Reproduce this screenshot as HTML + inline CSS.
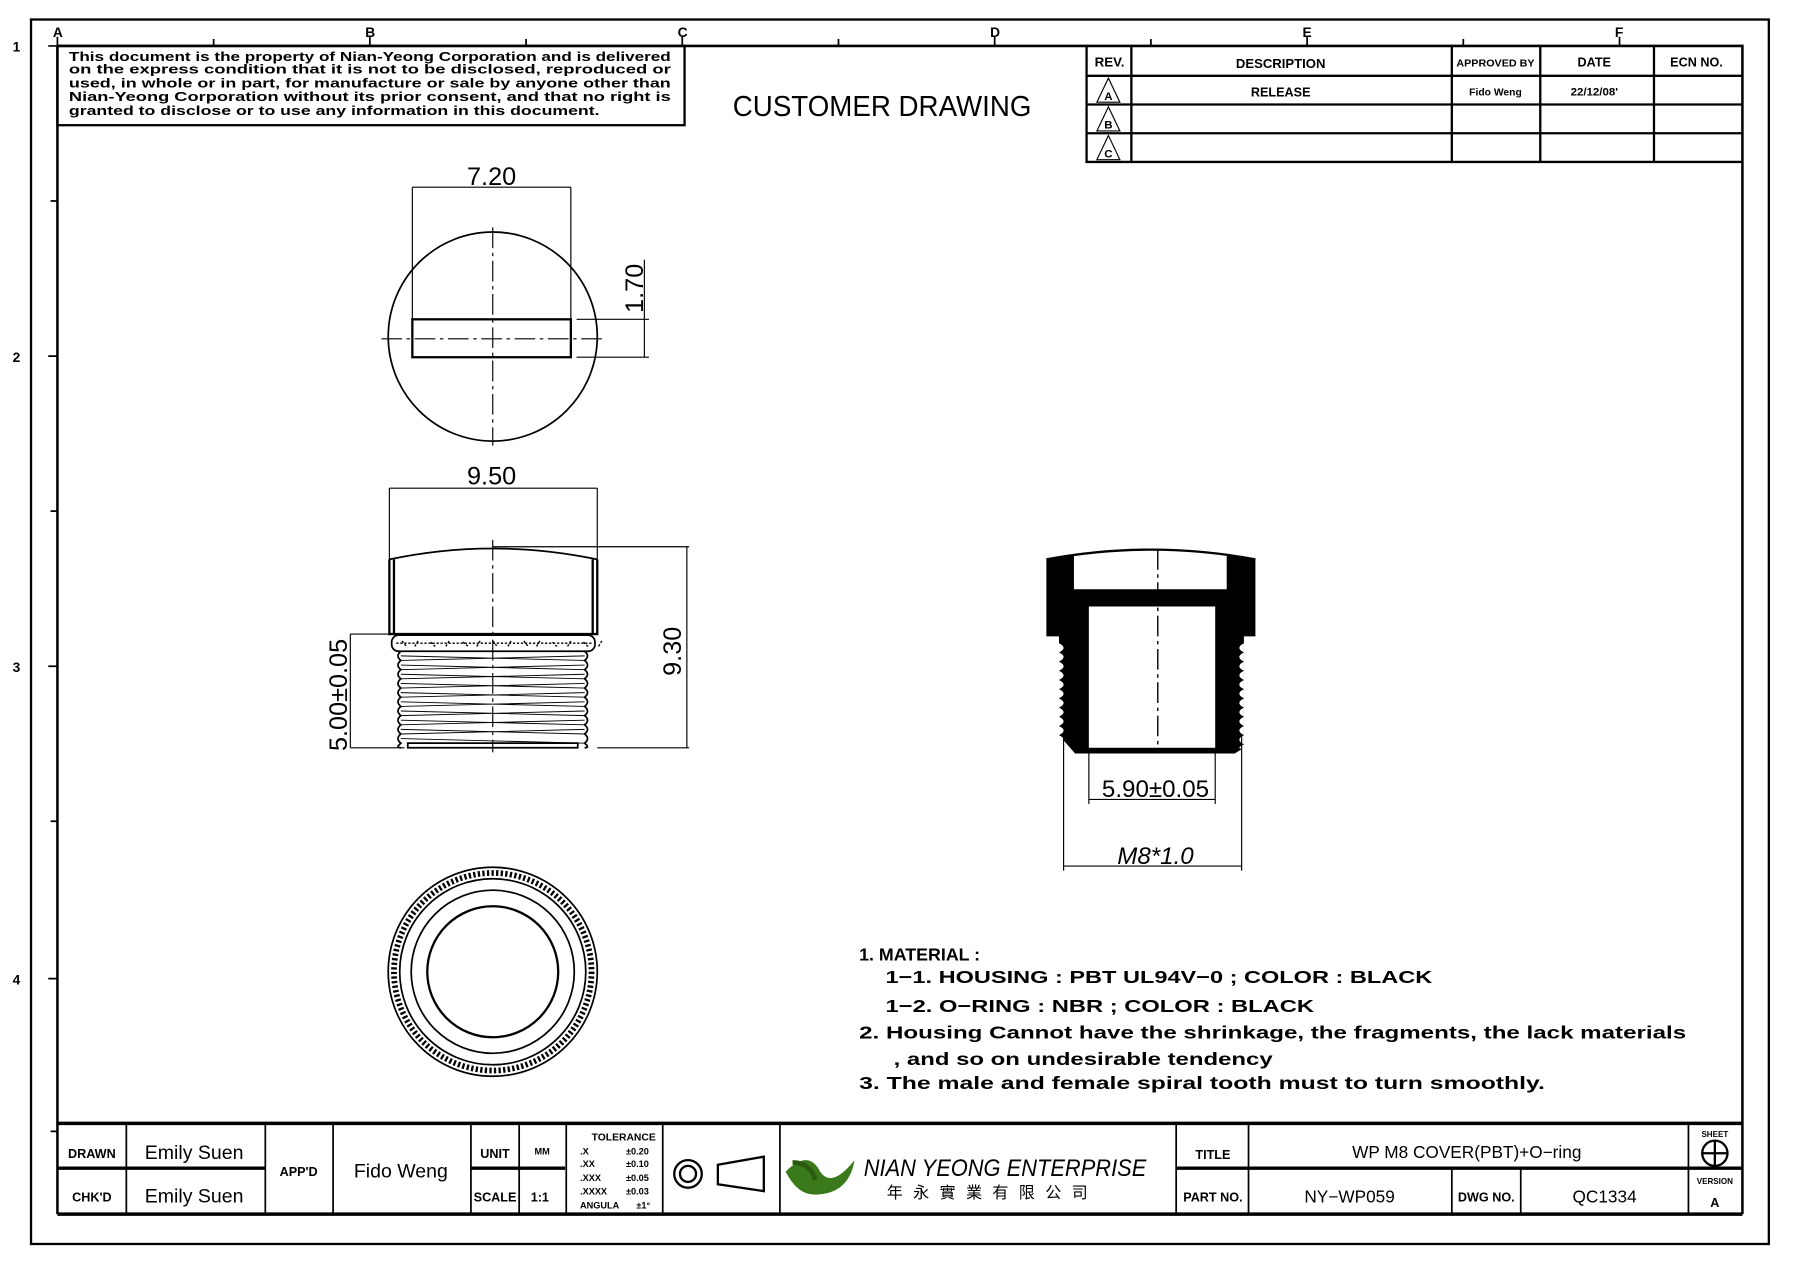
<!DOCTYPE html>
<html><head><meta charset="utf-8"><style>
html,body{margin:0;padding:0;background:#fff}
svg{display:block}
text{font-family:"Liberation Sans",sans-serif;fill:#000}
.b{font-weight:bold}
</style></head><body>
<svg width="1801" height="1265" viewBox="0 0 1568 1101.3" preserveAspectRatio="none" xmlns="http://www.w3.org/2000/svg">
<rect x="0" y="0" width="1568" height="1102" fill="#fff"/>
<g fill="none" stroke="#000">
<rect x="27" y="17" width="1513" height="1066" stroke-width="2"/>
<path d="M50 40H1517V1057M50 40V1057" stroke-width="2.2"/>
<path d="M50 32V40M186 34V40M322 32V40M458 34V40M594 32V40M730 34V40M866 32V40M1002 34V40M1138 32V40M1274 34V40M1410 32V40" stroke-width="1.5"/>
<path d="M42 40H50M44 175H50M42 310H50M44 445H50M42 580H50M44 715H50M42 852H50M44 985H50" stroke-width="1.5"/>
<rect x="50" y="40" width="546" height="69" stroke-width="2"/>
<path d="M946 40V141H1517M946 66H1517M946 91H1517M946 116H1517M985 40V141M1264 40V141M1341 40V141M1440 40V141" stroke-width="2"/>
<path d="M965 68L955 89H975ZM965 93L955 114H975ZM965 118L955 139H975Z" stroke-width="1"/>
</g>
<g class="b" font-size="12">
<text x="11" y="45">1</text><text x="11" y="315">2</text><text x="11" y="585">3</text><text x="11" y="857">4</text>
<text x="46" y="32">A</text><text x="318" y="32">B</text><text x="590" y="32">C</text><text x="862" y="32">D</text><text x="1134" y="32">E</text><text x="1406" y="32">F</text>
</g>
<g class="b" font-size="11.5">
<text x="60" y="53" textLength="524" lengthAdjust="spacingAndGlyphs">This document is the property of Nian-Yeong Corporation and is delivered</text>
<text x="60" y="64" textLength="524" lengthAdjust="spacingAndGlyphs">on  the  express condition that it is not to be disclosed, reproduced or</text>
<text x="60" y="76" textLength="524" lengthAdjust="spacingAndGlyphs">used, in whole or in part, for manufacture or sale by anyone other than</text>
<text x="60" y="88" textLength="524" lengthAdjust="spacingAndGlyphs">Nian-Yeong Corporation without  its prior consent, and that  no right  is</text>
<text x="60" y="100" textLength="462" lengthAdjust="spacingAndGlyphs">granted to disclose or to use any information in this  document.</text>
</g>
<text x="638" y="101" font-size="25" textLength="260" lengthAdjust="spacingAndGlyphs">CUSTOMER  DRAWING</text>
<g class="b" font-size="11" text-anchor="middle">
<text x="966" y="58" textLength="26" lengthAdjust="spacingAndGlyphs">REV.</text>
<text x="1115" y="59" textLength="78" lengthAdjust="spacingAndGlyphs">DESCRIPTION</text>
<text x="1302" y="58" textLength="68" lengthAdjust="spacingAndGlyphs" font-size="9">APPROVED BY</text>
<text x="1388" y="58">DATE</text>
<text x="1477" y="58">ECN NO.</text>
<text x="1115" y="84">RELEASE</text>
<text x="1302" y="83" font-size="9">Fido Weng</text>
<text x="1388" y="83" font-size="10">22/12/08'</text>
<text x="965" y="87" font-size="10">A</text><text x="965" y="112" font-size="10">B</text><text x="965" y="137" font-size="10">C</text>
</g>

<g fill="none" stroke="#000">
<circle cx="429" cy="293" r="91" stroke-width="1.5"/>
<rect x="359" y="278" width="138" height="33" stroke-width="2"/>
<path d="M429 198V388M332 295H528" stroke-width="1" stroke-dasharray="18 4 3 4"/>
<path d="M359 163V278M497 163V278M359 163H497M502 278H565M502 311H565M561 226V311" stroke-width="1"/>
</g>
<text x="428" y="161" font-size="22" text-anchor="middle">7.20</text>
<text transform="translate(560,251) rotate(-90)" font-size="22" text-anchor="middle">1.70</text>

<g fill="none" stroke="#000">
<path d="M339 425H520M339 425V487M520 425V487" stroke-width="1"/>
<path d="M339 487Q429 468 520 487" stroke-width="1.5"/>
<path d="M339 487V552H520V487M343 487V552M516 487V552" stroke-width="2"/>
<path d="M429 476H600M520 651H600M305 552H339M305 651H352M598 476V651M305 552V651" stroke-width="1"/>
<rect x="341" y="553" width="177" height="14" rx="6" stroke-width="1.5"/>
<path d="M345 560h170M350 558l4 5m10-5l-3 5m14-4l4 4m12-5l-3 5m15-4l5 4m10-5l-3 5m14-5l4 5m12-5l-3 5m14-5l4 5m10-5l-3 5m14-4l4 4m12-5l-3 5m14-4l4 4m12-5l-3 5" stroke-width="1.2" stroke-dasharray="2 1.5"/>
<path d="M349 567q-5 4 0 8q-5 4 0 8q-5 4 0 8q-5 4 0 8q-5 4 0 8q-5 4 0 8q-5 4 0 8q-5 4 0 8q-5 4 0 8q-5 4 0 8q-5 4 0 4M509 567q5 4 0 8q5 4 0 8q5 4 0 8q5 4 0 8q5 4 0 8q5 4 0 8q5 4 0 8q5 4 0 8q5 4 0 8q5 4 0 8q5 4 0 4" stroke-width="1.5"/>
<path d="M349 571L509 575M349 579L509 583M349 587L509 591M349 595L509 599M349 603L509 607M349 611L509 615M349 619L509 623M349 627L509 631M349 635L509 639M349 643L509 647M349 575L509 571M349 583L509 579M349 591L509 587M349 599L509 595M349 607L509 603M349 615L509 611M349 623L509 619M349 631L509 627M349 639L509 635" stroke-width="0.8"/>
<path d="M355 647H503V651H355Z" stroke-width="1.5"/>
<path d="M429 470V655" stroke-width="1" stroke-dasharray="18 4 3 4"/>
</g>
<text x="428" y="422" font-size="22" text-anchor="middle">9.50</text>
<text transform="translate(593,567) rotate(-90)" font-size="22" text-anchor="middle">9.30</text>
<text transform="translate(302,605) rotate(-90)" font-size="22" text-anchor="middle">5.00±0.05</text>

<g fill="none" stroke="#000">
<circle cx="429" cy="846" r="91" stroke-width="1.5"/>
<circle cx="429" cy="846" r="86" stroke-width="5" stroke-dasharray="2 2"/>
<circle cx="429" cy="846" r="81" stroke-width="1.5"/>
<circle cx="429" cy="846" r="71" stroke-width="1.5"/>
<circle cx="429" cy="846" r="57" stroke-width="2"/>
</g>

<g>
<path d="M911 487Q1002 470 1093 487V554H1083V651L1075 656H936L922 640V554H911Z" fill="#000"/>
<path d="M935 480Q1002 472 1068 480V513H935Z" fill="#fff"/>
<path d="M911 487Q1002 470 1093 487" stroke="#000" stroke-width="2" fill="none"/>
<rect x="948" y="528" width="110" height="123" fill="#fff"/>
<path d="M922 560q8 4 0 8q8 4 0 8q8 4 0 8q8 4 0 8q8 4 0 8q8 4 0 8q8 4 0 8q8 4 0 8q8 4 0 8q8 4 0 8q8 4 0 8q8 4 0 4V560ZM1083 560q-8 4 0 8q-8 4 0 8q-8 4 0 8q-8 4 0 8q-8 4 0 8q-8 4 0 8q-8 4 0 8q-8 4 0 8q-8 4 0 8q-8 4 0 8q-8 4 0 8q-8 4 0 4V560Z" fill="#fff"/>
<path d="M1008 478V651" stroke="#000" stroke-width="1.2" stroke-dasharray="18 4 3 4" fill="none"/>
<path d="M948 652V700M1058 652V700M948 696H1058M926 640V758M1081 640V758M926 754H1081" stroke="#000" stroke-width="1" fill="none"/>
</g>
<text x="1006" y="694" font-size="21" text-anchor="middle">5.90±0.05</text>
<text x="1006" y="752" font-size="21" text-anchor="middle" font-style="italic">M8*1.0</text>

<g class="b" font-size="15.5">
<text x="748" y="836">1.  MATERIAL  :</text>
<text x="771" y="856" textLength="476" lengthAdjust="spacingAndGlyphs">1−1.  HOUSING  :  PBT  UL94V−0  ;  COLOR  :  BLACK</text>
<text x="771" y="881" textLength="373" lengthAdjust="spacingAndGlyphs">1−2.  O−RING  :  NBR  ;  COLOR  :  BLACK</text>
<text x="748" y="904" textLength="720" lengthAdjust="spacingAndGlyphs">2.  Housing  Cannot  have  the  shrinkage,  the  fragments,  the  lack  materials</text>
<text x="778" y="927" textLength="330" lengthAdjust="spacingAndGlyphs">,  and  so  on  undesirable  tendency</text>
<text x="748" y="948" textLength="597" lengthAdjust="spacingAndGlyphs">3.  The  male  and  female  spiral  tooth  must  to  turn  smoothly.</text>
</g>

<g fill="none" stroke="#000">
<path d="M50 978H1517M50 1057H1517" stroke-width="3"/>
<path d="M50 1017H231M410 1017H492M1024 1017H1517" stroke-width="3"/>
<path d="M110 978V1057M231 978V1057M290 978V1057M410 978V1057M452 978V1057M493 978V1057M577 978V1057M679 978V1057M1024 978V1057M1087 978V1057M1264 1017V1057M1324 1017V1057M1470 978V1057" stroke-width="1.5"/>
<circle cx="599" cy="1022" r="12" stroke-width="2"/><circle cx="599" cy="1022" r="7" stroke-width="2"/>
<path d="M625 1014L665 1007V1037L625 1031Z" stroke-width="2"/>
<circle cx="1493" cy="1004" r="11" stroke-width="2"/><path d="M1482 1004H1504M1493 993V1015" stroke-width="2"/>
</g>
<path d="M684 1020q20-20 30 0q10 15 30-10q-5 30-35 30q-15 0-25-20z" fill="#3a7a1a"/>
<path d="M690 1012q15 0 20 15" stroke="#2a5a10" stroke-width="4" fill="none"/>
<g class="b" font-size="11" text-anchor="middle">
<text x="80" y="1008">DRAWN</text><text x="80" y="1046">CHK'D</text>
<text x="260" y="1024">APP'D</text>
<text x="431" y="1008">UNIT</text><text x="472" y="1005" font-size="8">MM</text>
<text x="431" y="1046">SCALE</text><text x="470" y="1046">1:1</text>
<text x="1056" y="1009">TITLE</text><text x="1056" y="1046">PART NO.</text>
<text x="1294" y="1046">DWG NO.</text>
<text x="1493" y="990" font-size="7">SHEET</text><text x="1493" y="1031" font-size="7">VERSION</text>
<text x="1493" y="1051">A</text>
<text x="543" y="993" font-size="9">TOLERANCE</text>
</g>
<g class="b" font-size="8">
<text x="505" y="1005">.X</text><text x="545" y="1005">±0.20</text>
<text x="505" y="1016">.XX</text><text x="545" y="1016">±0.10</text>
<text x="505" y="1028">.XXX</text><text x="545" y="1028">±0.05</text>
<text x="505" y="1040">.XXXX</text><text x="545" y="1040">±0.03</text>
<text x="505" y="1052">ANGULA</text><text x="554" y="1052">±1°</text>
</g>
<g font-size="17" text-anchor="middle">
<text x="169" y="1009">Emily Suen</text><text x="169" y="1047">Emily Suen</text>
<text x="349" y="1025">Fido Weng</text>
<text x="1277" y="1008" font-size="15">WP  M8  COVER(PBT)+O−ring</text>
<text x="1175" y="1047" font-size="15">NY−WP059</text>
<text x="1397" y="1047" font-size="15">QC1334</text>
</g>
<text x="752" y="1024" font-size="21" font-style="italic" textLength="246" lengthAdjust="spacingAndGlyphs">NIAN YEONG ENTERPRISE</text>
<text x="772" y="1043" font-size="14" font-family="'Liberation Sans','Noto Sans CJK TC',sans-serif" letter-spacing="9">年永實業有限公司</text>
</svg>
</body></html>
